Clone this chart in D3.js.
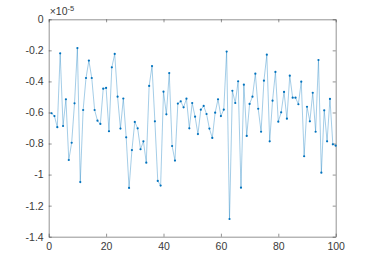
<!DOCTYPE html>
<html>
<head>
<meta charset="utf-8">
<script src="https://cdn.jsdelivr.net/npm/d3@7"></script>
<style>
  body { margin: 0; background: #fff; }
  svg text { font-family: "Liberation Sans", Arial, sans-serif; }
</style>
</head>
<body>
<svg id="chart"></svg>
<script>
const WIDTH = 371;
const HEIGHT = 265;
const LEFT = 48.7, RIGHT = 335.7, TOP = 19.3, BOTTOM = 236.7;

// values are in units of 1e-5 (as shown on the axis multiplier)
const xValues = d3.range(1, 101);
const yValues = [
  -0.605, -0.623, -0.695, -0.219, -0.687, -0.515, -0.906, -0.795, -0.541, -0.185,
  -1.048, -0.584, -0.378, -0.266, -0.378, -0.584, -0.653, -0.674, -0.447, -0.442,
  -0.721, -0.309, -0.223, -0.498, -0.704, -0.510, -0.760, -1.086, -0.842, -0.661,
  -0.702, -0.837, -0.786, -0.923, -0.429, -0.301, -0.657, -1.041, -1.071, -0.466,
  -0.612, -0.346, -0.816, -0.910, -0.543, -0.528, -0.567, -0.511, -0.702, -0.539,
  -0.627, -0.739, -0.582, -0.558, -0.610, -0.704, -0.764, -0.601, -0.515, -0.623,
  -0.582, -0.208, -1.286, -0.460, -0.539, -0.399, -1.084, -0.421, -0.751, -0.545,
  -0.498, -0.350, -0.576, -0.724, -0.395, -0.228, -0.786, -0.524, -0.339, -0.659,
  -0.599, -0.468, -0.640, -0.363, -0.505, -0.505, -0.547, -0.402, -0.882, -0.563,
  -0.657, -0.473, -0.724, -0.262, -0.988, -0.586, -0.786, -0.513, -0.805, -0.814
];
const xTicks = [0, 20, 40, 60, 80, 100];
const yTicks = [0, -0.2, -0.4, -0.6, -0.8, -1, -1.2, -1.4];

const svg = d3.select("#chart").attr("width", WIDTH).attr("height", HEIGHT);

const xScale = d3.scaleLinear().domain([0, 100]).range([LEFT, RIGHT]);
const yScale = d3.scaleLinear().domain([-1.4, 0]).range([BOTTOM, TOP]);

const axisColor = "#262626";
const textColor = "#3a3a3a";

// axes with ticks pointing inwards, box on all sides
const xAxis = d3.axisBottom(xScale).tickValues(xTicks).tickSizeInner(-3).tickSizeOuter(0).tickPadding(6);
const xAxisTop = d3.axisTop(xScale).tickValues(xTicks).tickSizeInner(-3).tickSizeOuter(0).tickFormat("");
const yAxis = d3.axisLeft(yScale).tickValues(yTicks).tickSizeInner(-3).tickSizeOuter(0).tickPadding(5)
  .tickFormat(d => d3.format("")(d).replace("−", "-"));
const yAxisRight = d3.axisRight(yScale).tickValues(yTicks).tickSizeInner(-3).tickSizeOuter(0).tickFormat("");

const styleAxis = g => {
  g.select(".domain").attr("stroke", axisColor).attr("stroke-width", 0.5);
  g.selectAll(".tick line").attr("stroke", axisColor).attr("stroke-width", 0.5);
  g.selectAll(".tick text").attr("fill", textColor).style("font-size", "10.5px");
};

svg.append("g").attr("transform", `translate(0, ${BOTTOM})`).call(xAxis).call(styleAxis);
svg.append("g").attr("transform", `translate(0, ${TOP})`).call(xAxisTop).call(styleAxis);
svg.append("g").attr("transform", `translate(${LEFT}, 0)`).call(yAxis).call(styleAxis);
svg.append("g").attr("transform", `translate(${RIGHT}, 0)`).call(yAxisRight).call(styleAxis);

// exponent label
const expo = svg.append("text")
  .attr("x", LEFT + 1)
  .attr("y", TOP - 4)
  .attr("fill", textColor)
  .style("font-size", "10.5px");
expo.append("tspan").text("\u00d710");
expo.append("tspan").attr("dy", -4).style("font-size", "7.5px").text("-5");

const data = xValues.map((x, i) => [x, yValues[i]]);

const line = d3.line().x(d => xScale(d[0])).y(d => yScale(d[1]));

svg.append("path")
  .datum(data)
  .attr("fill", "none")
  .attr("stroke", "#0072BD")
  .attr("stroke-opacity", 0.6)
  .attr("stroke-width", 0.6)
  .attr("d", line);

svg.selectAll("circle.pt")
  .data(data)
  .enter()
  .append("circle")
  .attr("class", "pt")
  .attr("cx", d => xScale(d[0]))
  .attr("cy", d => yScale(d[1]))
  .attr("r", 1.1)
  .attr("fill", "#0072BD");
</script>
</body>
</html>
